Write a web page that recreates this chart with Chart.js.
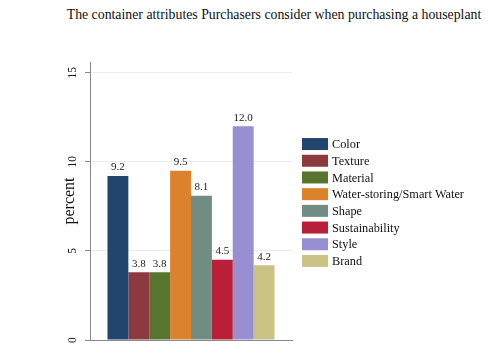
<!DOCTYPE html>
<html>
<head>
<meta charset="utf-8">
<script src="https://cdn.jsdelivr.net/npm/chart.js@4.4.1/dist/chart.umd.min.js"></script>
<style>
  body { margin: 0; background: #fff; }
  #title {
    height: 30px; box-sizing: border-box; padding: 6px 0 0 48px;
    text-align: center; color: #111;
    font-family: 'Liberation Serif', 'Times New Roman', serif;
    font-size: 13.8px; line-height: 17px; white-space: nowrap;
  }
  #wrap { width: 500px; height: 333px; }
</style>
</head>
<body>
<div id="title">The container attributes Purchasers consider when purchasing a houseplant</div>
<div id="wrap"><canvas id="attrChart"></canvas></div>
<script>
// Data
const attributes = ['Color', 'Texture', 'Material', 'Water-storing/Smart Water', 'Shape', 'Sustainability', 'Style', 'Brand'];
const percents = [9.2, 3.8, 3.8, 9.5, 8.1, 4.5, 12.0, 4.2];
const barColors = ['#22456d', '#8c3a40', '#58752f', '#dc822c', '#718c82', '#b81f38', '#978fd2', '#cbc386'];
const yTicks = [0, 5, 10, 15];

const serif = "'Liberation Serif', 'Times New Roman', serif";

// one dataset per attribute, all in a single category
const datasets = attributes.map((name, i) => ({
    label: name,
    data: [percents[i]],
    backgroundColor: barColors[i],
    borderWidth: 0,
    categoryPercentage: 0.827,
    barPercentage: 1
}));

// value labels above each bar
const valueLabels = {
    id: 'valueLabels',
    afterDatasetsDraw(chart) {
        const ctx = chart.ctx;
        ctx.save();
        ctx.font = '11px ' + serif;
        ctx.fillStyle = '#222';
        ctx.textAlign = 'center';
        ctx.textBaseline = 'bottom';
        chart.data.datasets.forEach((ds, i) => {
            const bar = chart.getDatasetMeta(i).data[0];
            ctx.fillText(ds.data[0].toFixed(1), bar.x, bar.y - 3);
        });
        ctx.restore();
    }
};

// legend to the right of the plot (built-in one gets squeezed by the layout)
const sideLegend = {
    id: 'sideLegend',
    afterDraw(chart) {
        const ctx = chart.ctx;
        const area = chart.chartArea;
        const mid = (area.top + area.bottom) / 2 + 1.5;
        const rowH = 16.7;
        const x = area.right + 10;
        ctx.save();
        ctx.font = '12.3px ' + serif;
        ctx.textBaseline = 'middle';
        ctx.textAlign = 'left';
        chart.data.datasets.forEach((ds, i) => {
            const y = mid + (i - (chart.data.datasets.length - 1) / 2) * rowH;
            ctx.fillStyle = ds.backgroundColor;
            ctx.fillRect(x, y - 6, 26, 12);
            ctx.fillStyle = '#111';
            ctx.fillText(ds.label, x + 30, y + 1);
        });
        ctx.restore();
    }
};

new Chart(document.getElementById('attrChart'), {
    type: 'bar',
    data: { labels: [''], datasets: datasets },
    options: {
        responsive: true,
        maintainAspectRatio: false,
        animation: false,
        layout: { padding: { left: 58, right: 208, top: 32, bottom: 23 } },
        plugins: {
            legend: { display: false },
            tooltip: { enabled: false }
        },
        scales: {
            x: {
                grid: { display: false, drawTicks: false, tickLength: 0 },
                border: { display: true, color: '#888', width: 1 },
                ticks: { display: false }
            },
            y: {
                min: 0,
                max: 15.6,
                afterBuildTicks: (scale) => {
                    scale.ticks = yTicks.map(v => ({ value: v }));
                },
                afterFit: (scale) => {
                    scale.width = 32;
                },
                grid: {
                    color: (c) => (c.tick && c.tick.value === 0) ? 'rgba(0,0,0,0)' : '#ebebeb',
                    tickColor: '#888',
                    tickLength: 5
                },
                border: { color: '#888', width: 1 },
                ticks: {
                    minRotation: 90,
                    maxRotation: 90,
                    crossAlign: 'center',
                    padding: 6,
                    color: '#111',
                    font: { family: serif, size: 11.5 }
                },
                title: {
                    display: true,
                    text: 'percent',
                    color: '#111',
                    font: { family: serif, size: 16 },
                    padding: { top: 2, bottom: 0 }
                }
            }
        }
    },
    plugins: [valueLabels, sideLegend]
});
</script>
</body>
</html>
